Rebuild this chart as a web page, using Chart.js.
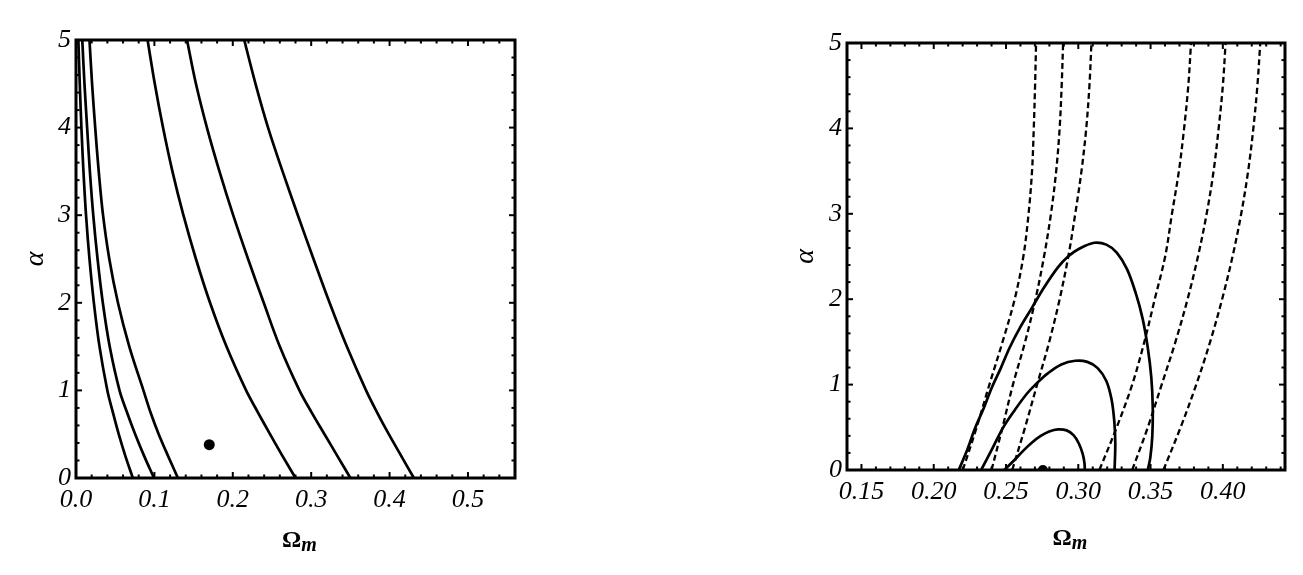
<!DOCTYPE html>
<html><head><meta charset="utf-8">
<script src="https://cdn.jsdelivr.net/npm/chart.js@4.4.1/dist/chart.umd.min.js"></script>
<style>
html,body{margin:0;padding:0;background:#fff;width:1303px;height:575px;overflow:hidden}
.box{position:absolute;top:0;height:575px}
#bl{left:0;width:560px}
#br{left:760px;width:543px}
</style></head><body>
<div class="box" id="bl"><canvas id="cl" width="560" height="575"></canvas></div>
<div class="box" id="br"><canvas id="cr" width="543" height="575"></canvas></div>
<script>
// ---------- LEFT PANEL DATA ----------
const leftXTicks = [0, 0.1, 0.2, 0.3, 0.4, 0.5];
const leftXLabels = ['0.0', '0.1', '0.2', '0.3', '0.4', '0.5'];
const yTicks = [0, 1, 2, 3, 4, 5];
const yLabels = ['0', '1', '2', '3', '4', '5'];
const leftAlpha = [0, 0.25, 0.5, 0.75, 1, 1.5, 2, 2.5, 3, 3.5, 4, 4.5, 5];
const leftCurveA = [0.0725, 0.0630, 0.0545, 0.0470, 0.0400, 0.0300, 0.0228, 0.0172, 0.0128, 0.0095, 0.0069, 0.0048, 0.0030];
const leftCurveB = [0.0995, 0.0870, 0.0755, 0.0650, 0.0555, 0.0430, 0.0342, 0.0275, 0.0220, 0.0177, 0.0142, 0.0108, 0.0080];
const leftCurveC = [0.1300, 0.1175, 0.1055, 0.0950, 0.0860, 0.0680, 0.0535, 0.0425, 0.0345, 0.0290, 0.0245, 0.0205, 0.0172];
const leftCurveD = [0.2800, 0.2635, 0.2475, 0.2320, 0.2170, 0.1920, 0.1710, 0.1530, 0.1370, 0.1230, 0.1110, 0.1005, 0.0913];
const leftCurveE = [0.3500, 0.3335, 0.3170, 0.3005, 0.2850, 0.2600, 0.2395, 0.2195, 0.2005, 0.1830, 0.1670, 0.1530, 0.1416];
const leftCurveF = [0.4310, 0.4150, 0.3990, 0.3840, 0.3700, 0.3455, 0.3235, 0.3030, 0.2830, 0.2635, 0.2450, 0.2290, 0.2146];
const leftBestFit = [0.170, 0.38];   // [Omega_m, alpha]

// ---------- RIGHT PANEL DATA ----------
const rightXTicks = [0.15, 0.20, 0.25, 0.30, 0.35, 0.40];
const rightXLabels = ['0.15', '0.20', '0.25', '0.30', '0.35', '0.40'];
const dashAlpha = [0, 0.5, 1, 1.5, 2, 2.5, 3, 3.5, 4, 4.5, 5];
const dash1 = [0.2201, 0.2297, 0.2385, 0.2476, 0.2560, 0.2620, 0.2656, 0.2680, 0.2692, 0.2701, 0.2708];
const dash2 = [0.2400, 0.2476, 0.2548, 0.2632, 0.2704, 0.2763, 0.2811, 0.2847, 0.2871, 0.2885, 0.2895];
const dash3 = [0.2543, 0.2632, 0.2715, 0.2799, 0.2871, 0.2931, 0.2979, 0.3022, 0.3055, 0.3077, 0.3091];
const dash4 = [0.3146, 0.3266, 0.3373, 0.3457, 0.3529, 0.3601, 0.3648, 0.3696, 0.3732, 0.3761, 0.3780];
const dash5 = [0.3373, 0.3481, 0.3577, 0.3672, 0.3756, 0.3828, 0.3888, 0.3936, 0.3971, 0.4000, 0.4019];
const dash6 = [0.3589, 0.3708, 0.3816, 0.3912, 0.3995, 0.4067, 0.4127, 0.4175, 0.4211, 0.4239, 0.4259];
const outerOmega = [0.2173, 0.2230, 0.2285, 0.2345, 0.2400, 0.2464, 0.2524, 0.2596, 0.2680, 0.2763, 0.2859, 0.2931, 0.3003, 0.3110, 0.3194, 0.3266, 0.3337, 0.3397, 0.3445, 0.3481, 0.3505, 0.3515, 0.3512, 0.3498, 0.3481];
const outerAlpha = [0, 0.227, 0.485, 0.721, 0.957, 1.193, 1.429, 1.665, 1.901, 2.137, 2.373, 2.502, 2.588, 2.661, 2.639, 2.545, 2.352, 2.073, 1.773, 1.429, 1.086, 0.742, 0.399, 0.142, 0];
const middleOmega = [0.2328, 0.2405, 0.2476, 0.2560, 0.2644, 0.2716, 0.2787, 0.2883, 0.2979, 0.3062, 0.3134, 0.3194, 0.3230, 0.3249, 0.3256, 0.3251];
const middleAlpha = [0, 0.249, 0.485, 0.700, 0.893, 1.021, 1.129, 1.236, 1.279, 1.266, 1.193, 1.043, 0.828, 0.571, 0.313, 0];
const innerOmega = [0.2488, 0.2560, 0.2620, 0.2680, 0.2740, 0.2799, 0.2859, 0.2919, 0.2967, 0.3003, 0.3031, 0.3043, 0.3045];
const innerAlpha = [0, 0.120, 0.227, 0.322, 0.399, 0.451, 0.476, 0.464, 0.408, 0.313, 0.185, 0.077, 0];
const rightBestFit = [0.2755, 0];

const xTitleMain = 'Ω', xTitleSub = 'm', yTitle = 'α';

// ---------- helpers ----------
const zip = (xs, ys) => xs.map((v, i) => ({x: v, y: ys[i]}));
const curve = (omega, alpha, dashed) => ({
  data: zip(omega, alpha), showLine: true, pointRadius: 0, borderColor: '#000',
  borderWidth: dashed ? 2.3 : 2.7, borderDash: dashed ? [6, 3.5] : [], tension: 0.35, clip: 0, fill: false
});
const dot = (p, r) => ({data: [{x: p[0], y: p[1]}], showLine: false, pointRadius: r, pointBackgroundColor: '#000', pointBorderWidth: 0, clip: 0});

function framePlugin(cfg) {
  return {
    id: 'frame' + cfg.name,
    afterDatasetsDraw(chart) {
      const {ctx, chartArea: a} = chart;
      const xs = chart.scales.x, ys = chart.scales.y;
      ctx.save();
      ctx.strokeStyle = '#000';
      const seg = (x1, y1, x2, y2) => { ctx.beginPath(); ctx.moveTo(x1, y1); ctx.lineTo(x2, y2); ctx.stroke(); };
      const steps = (min, max, step) => { const out = []; for (let k = Math.ceil(min / step - 1e-9); k * step <= max + 1e-9; k++) out.push(+(k * step).toFixed(6)); return out; };
      ctx.lineWidth = 2;
      steps(xs.min, xs.max, cfg.xMinor).forEach(v => {
        const major = cfg.xMajor.some(m => Math.abs(m - v) < 1e-6);
        const len = major ? 6 : 3.5;
        const p = xs.getPixelForValue(v);
        seg(p, a.bottom, p, a.bottom - len);
        seg(p, a.top, p, a.top + len);
      });
      steps(ys.min, ys.max, cfg.yMinor).forEach(v => {
        const major = cfg.yMajor.some(m => Math.abs(m - v) < 1e-6);
        const len = major ? 6 : 3.5;
        const p = ys.getPixelForValue(v);
        seg(a.left, p, a.left + len, p);
        seg(a.right, p, a.right - len, p);
      });
      ctx.lineWidth = 3;
      ctx.strokeRect(a.left, a.top, a.right - a.left, a.bottom - a.top);
      // x title with subscript
      ctx.fillStyle = '#000';
      ctx.textAlign = 'left'; ctx.textBaseline = 'alphabetic';
      const f1 = 'bold 24px "Liberation Serif"', f2 = 'bold italic 20px "Liberation Serif"';
      ctx.font = f1; const w1 = ctx.measureText(xTitleMain).width;
      ctx.font = f2; const w2 = ctx.measureText(xTitleSub).width;
      const sx = (a.left + a.right) / 2 - (w1 + w2) / 2 + cfg.xTitleDx;
      const by = a.bottom + cfg.xTitleOffset;
      ctx.font = f1; ctx.fillText(xTitleMain, sx, by);
      ctx.font = f2; ctx.fillText(xTitleSub, sx + w1, by + 4);
      // y title
      ctx.translate(cfg.yTitleX, (a.top + a.bottom) / 2);
      ctx.rotate(-Math.PI / 2);
      ctx.font = 'italic 28px "Liberation Serif"';
      ctx.textAlign = 'center'; ctx.textBaseline = 'middle';
      ctx.fillText(yTitle, 0, 0);
      ctx.restore();
    }
  };
}

function makeChart(id, cfg) {
  return new Chart(document.getElementById(id), {
    type: 'scatter',
    data: {datasets: cfg.datasets},
    options: {
      responsive: false, animation: false, events: [],
      layout: {padding: {top: cfg.top, right: cfg.right, left: 0, bottom: 0}},
      plugins: {legend: {display: false}, tooltip: {enabled: false}},
      scales: {
        x: {
          type: 'linear', min: cfg.xMin, max: cfg.xMax,
          grid: {display: false, drawTicks: false}, border: {display: false},
          afterBuildTicks: s => { s.ticks = cfg.xTicks.map(v => ({value: v})); },
          afterFit: s => { s.height = cfg.xHeight; },
          ticks: {autoSkip: false, maxRotation: 0, padding: 7, color: '#000',
            font: {family: '"Liberation Serif"', style: 'italic', size: 26},
            callback: (v, i) => cfg.xLabels[i]}
        },
        y: {
          type: 'linear', min: 0, max: 5,
          grid: {display: false, drawTicks: false}, border: {display: false},
          afterBuildTicks: s => { s.ticks = yTicks.map(v => ({value: v})); },
          afterFit: s => { s.width = cfg.yWidth; },
          ticks: {autoSkip: false, padding: 5, color: '#000',
            font: {family: '"Liberation Serif"', style: 'italic', size: 26},
            callback: (v, i) => yLabels[i]}
        }
      }
    },
    plugins: [framePlugin(cfg)]
  });
}

makeChart('cl', {
  name: 'L', top: 40, right: 45, xHeight: 97, yWidth: 76, xMin: 0, xMax: 0.56,
  xTicks: leftXTicks, xLabels: leftXLabels, xMajor: leftXTicks, xMinor: 0.02, yMajor: yTicks, yMinor: 0.2,
  xTitleOffset: 69, xTitleDx: 4, yTitleX: 36,
  datasets: [
    curve(leftCurveA, leftAlpha), curve(leftCurveB, leftAlpha), curve(leftCurveC, leftAlpha),
    curve(leftCurveD, leftAlpha), curve(leftCurveE, leftAlpha), curve(leftCurveF, leftAlpha),
    dot(leftBestFit, 5.5)
  ]
});

makeChart('cr', {
  name: 'R', top: 43, right: 18, xHeight: 105, yWidth: 87, xMin: 0.14, xMax: 0.443,
  xTicks: rightXTicks, xLabels: rightXLabels, xMajor: rightXTicks, xMinor: 0.01, yMajor: yTicks, yMinor: 0.2,
  xTitleOffset: 75, xTitleDx: 4, yTitleX: 46,
  datasets: [
    curve(dash1, dashAlpha, true), curve(dash2, dashAlpha, true), curve(dash3, dashAlpha, true),
    curve(dash4, dashAlpha, true), curve(dash5, dashAlpha, true), curve(dash6, dashAlpha, true),
    curve(outerOmega, outerAlpha), curve(middleOmega, middleAlpha), curve(innerOmega, innerAlpha),
    dot(rightBestFit, 5)
  ]
});
</script>
</body></html>
